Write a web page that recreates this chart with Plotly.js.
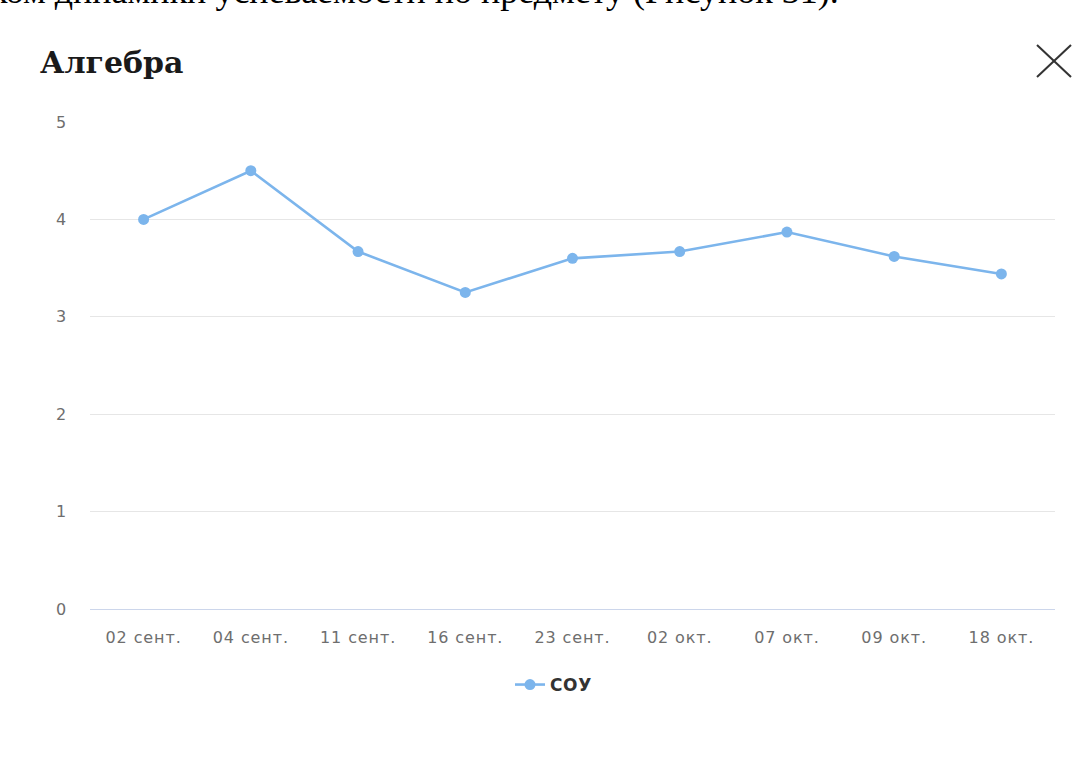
<!DOCTYPE html>
<html>
<head>
<meta charset="utf-8">
<script src="https://cdn.plot.ly/plotly-3.0.1.min.js"></script>
<style>
html,body{margin:0;padding:0;background:#fff;}
#chart{width:1089px;height:758px;}
#chart .xtick text, #chart .ytick text{letter-spacing:0.9px;}
#chart .legendtext{letter-spacing:0.6px;}
</style>
</head>
<body>
<div id="chart"></div>
<script>
const categories = ["02 сент.", "04 сент.", "11 сент.", "16 сент.", "23 сент.", "02 окт.", "07 окт.", "09 окт.", "18 окт."];
const values = [4.0, 4.5, 3.67, 3.25, 3.6, 3.67, 3.87, 3.62, 3.44];
const seriesName = "СОУ";
const chartTitle = "Алгебра";
const captionText = "ком динамики успеваемости по предмету (Рисунок 31).";
const yTicks = [0, 1, 2, 3, 4, 5];

const W = 1089, H = 758;
const L = 90, R = 34, T = 122, B = 149;
const pw = W - L - R, ph = H - T - B;
const px = x => (x - L) / pw;
const py = y => (H - B - y) / ph;

const trace = {
  x: categories.map((c, i) => i),
  y: values,
  name: seriesName,
  type: 'scatter',
  mode: 'lines+markers',
  line: {color: '#7cb5ec', width: 2.6},
  marker: {color: '#7cb5ec', size: 11},
  showlegend: true,
  hoverinfo: 'x+y'
};

const layout = {
  width: W, height: H,
  margin: {l: L, r: R, t: T, b: B},
  paper_bgcolor: '#ffffff',
  plot_bgcolor: '#ffffff',
  font: {family: 'DejaVu Sans, sans-serif', color: '#666666'},
  title: {
    text: '<b>' + chartTitle + '</b>',
    font: {family: 'DejaVu Serif, serif', size: 30, color: '#1a1a1a'},
    xref: 'container', yref: 'container',
    x: 40 / W, xanchor: 'left',
    y: 1 - 62 / H, yanchor: 'middle'
  },
  xaxis: {
    range: [-0.5, categories.length - 0.5],
    tickmode: 'array',
    tickvals: categories.map((c, i) => i),
    ticktext: categories,
    showgrid: false,
    zeroline: false,
    showline: true,
    linecolor: '#ccd6eb',
    linewidth: 1,
    ticks: '',
    ticklabelstandoff: 14,
    tickfont: {family: 'DejaVu Sans, sans-serif', size: 16, color: '#6e6e6e'},
    fixedrange: true
  },
  yaxis: {
    range: [0, 5],
    tickmode: 'array',
    tickvals: yTicks,
    ticktext: yTicks.map(String),
    showgrid: true,
    gridcolor: '#e6e6e6',
    gridwidth: 1,
    zeroline: false,
    showline: false,
    ticks: '',
    ticklabelstandoff: 22,
    tickfont: {family: 'DejaVu Sans, sans-serif', size: 16, color: '#6e6e6e'},
    fixedrange: true
  },
  legend: {
    orientation: 'h',
    x: px(553), xanchor: 'center',
    y: py(685), yanchor: 'middle',
    font: {family: 'DejaVu Sans, sans-serif', size: 17, color: '#333333', weight: 'bold'},
    bgcolor: 'rgba(0,0,0,0)',
    itemwidth: 30
  },
  shapes: [
    {type: 'line', xref: 'paper', yref: 'paper', x0: px(1037), y0: py(45), x1: px(1071), y1: py(77), line: {color: '#333333', width: 2}},
    {type: 'line', xref: 'paper', yref: 'paper', x0: px(1037), y0: py(77), x1: px(1071), y1: py(45), line: {color: '#333333', width: 2}}
  ],
  annotations: [
    {
      text: captionText,
      xref: 'paper', yref: 'paper',
      x: px(841), xanchor: 'right',
      y: py(13), yanchor: 'bottom',
      showarrow: false,
      font: {family: 'Liberation Serif, serif', size: 36, color: '#000000'}
    }
  ]
};

Plotly.newPlot('chart', [trace], layout, {displayModeBar: false, staticPlot: true});
</script>
</body>
</html>
